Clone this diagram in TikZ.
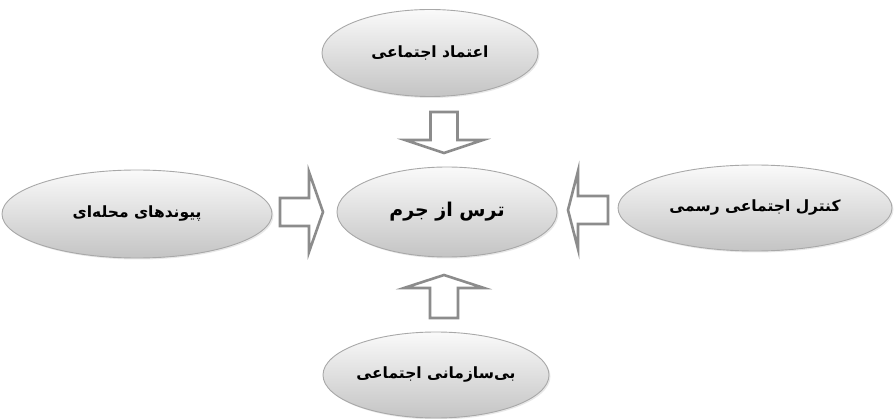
\documentclass[tikz,border=0pt]{standalone}
\usepackage{fontspec}
\newfontfamily\arabicfont[Script=Arabic]{DejaVu Sans}
\TeXXeTstate=1
\usetikzlibrary{shapes.geometric,shadows}
\definecolor{arrowgray}{HTML}{8C8C8C}
\definecolor{edgegray}{HTML}{A8A8A8}
\definecolor{fillgray}{HTML}{C4C4C4}
\tikzset{
  oval/.style={ellipse, draw=edgegray, line width=0.9pt, inner sep=0pt,
    top color=white!96!gray, bottom color=fillgray,
    drop shadow={opacity=0.18, shadow xshift=1.5pt, shadow yshift=-1.5pt},
    font=\arabicfont\bfseries\fontsize{15.5}{18}\selectfont},
  mainoval/.style={oval, font=\arabicfont\bfseries\fontsize{19}{22}\selectfont},
  arrowbox/.style={draw=arrowgray, line width=2.6pt, fill=white, line join=miter}
}
\newcommand\rtl[1]{\makebox[0pt]{\beginR #1\endR}}
\newcommand\blkarrow[6]{%
  \draw[arrowbox, shift={#1}, rotate=#2]
    (0,-#4) -- ({#3-#6},-#4) -- ({#3-#6},-#5) -- (#3,0) -- ({#3-#6},#5) -- ({#3-#6},#4) -- (0,#4) -- cycle;}
\begin{document}
\begin{tikzpicture}[x=1pt,y=1pt]
\useasboundingbox (0,0) rectangle (894,418);
\node[oval, minimum width=216pt, minimum height=87pt] (top) at (430,365) {\rtl{اعتماد اجتماعی}};
\node[mainoval, minimum width=220pt, minimum height=90pt] (mid) at (447,206) {\rtl{ترس از جرم}};
\node[oval, minimum width=270pt, minimum height=88pt] (left) at (137,204) {\rtl{پیوندهای محله‌ای}};
\node[oval, minimum width=274pt, minimum height=86pt] (right) at (755,210) {\rtl{کنترل اجتماعی رسمی}};
\node[oval, minimum width=226pt, minimum height=86pt] (bot) at (436,43) {\rtl{بی‌سازمانی اجتماعی}};
% block arrows: tail, angle, length, shaft half, head half, head length
\blkarrow{(444,306)}{-90}{41}{13.5}{39}{13}
\blkarrow{(444,100)}{90}{43}{14}{40}{13}
\blkarrow{(280,206)}{0}{43}{14}{40}{14}
\blkarrow{(608,208)}{180}{40}{14}{39}{10}
\end{tikzpicture}
\end{document}
